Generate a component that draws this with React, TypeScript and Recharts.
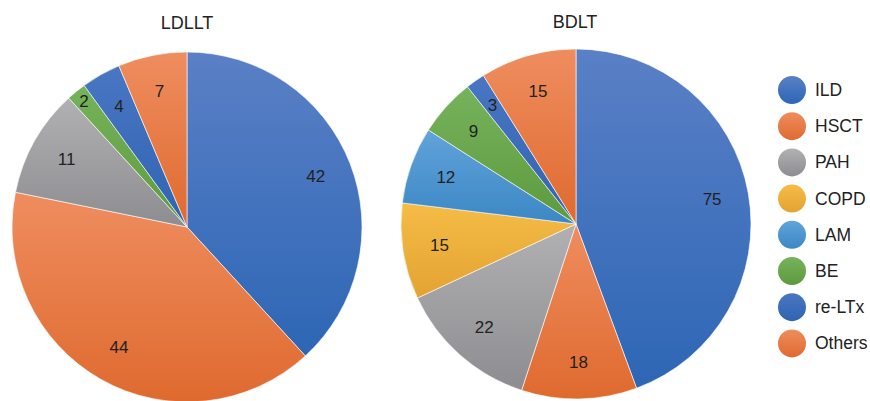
// Two pie charts (LDLLT vs BDLT indications) with a shared legend on the right.

import { PieChart, Pie, Cell } from "recharts";

const categories = ["ILD", "HSCT", "PAH", "COPD", "LAM", "BE", "re-LTx", "Others"];
const ldlltValues = [42, 44, 11, 0, 0, 2, 4, 7];
const bdltValues = [75, 18, 22, 15, 12, 9, 3, 15];

// top / bottom colours of each slice gradient
const colorTop = ["#5a80c6", "#ef8d5f", "#b1b1b3", "#f5bc46", "#62a3da", "#75b35c", "#4a76c2", "#ef8d5f"];
const colorBottom = ["#2d66b5", "#df6a2f", "#8d8d91", "#e3a332", "#3b87c5", "#5e993d", "#2f64b2", "#df6a2f"];

const FONT = "'Liberation Sans', Arial, Helvetica, sans-serif";

const toData = (values: number[]) =>
  categories
    .map((name, i) => ({ name, value: values[i], idx: i }))
    .filter((d) => d.value > 0);

const ldlltData = toData(ldlltValues);
const bdltData = toData(bdltValues);

const RAD = Math.PI / 180;

// tiny slices get their label pushed further out
const makeLabel = (smallFactor: number) => (props: any) => {
  const { cx, cy, midAngle, outerRadius, value, percent } = props;
  const r = outerRadius * (percent < 0.02 ? smallFactor : 0.79);
  const x = cx + r * Math.cos(-midAngle * RAD);
  const y = cy + r * Math.sin(-midAngle * RAD);
  return (
    <text
      x={x}
      y={y}
      fill="#222"
      fontSize={17}
      fontFamily={FONT}
      textAnchor="middle"
      dominantBaseline="central"
    >
      {value}
    </text>
  );
};

export default function App() {
  return (
    <div style={{ position: "absolute", left: 0, top: 0, width: 870, height: 401, background: "#fff" }}>
      <PieChart width={870} height={401} margin={{ top: 0, right: 0, bottom: 0, left: 0 }}>
        <defs>
          {categories.map((c, i) => (
            <linearGradient key={c} id={`grad${i}`} x1="0" y1="0" x2="0" y2="1">
              <stop offset="0%" stopColor={colorTop[i]} />
              <stop offset="100%" stopColor={colorBottom[i]} />
            </linearGradient>
          ))}
        </defs>
        <Pie
          data={ldlltData}
          dataKey="value"
          nameKey="name"
          cx={187}
          cy={227}
          outerRadius={175}
          startAngle={90}
          endAngle={-270}
          stroke="#fff"
          strokeWidth={0.6}
          label={makeLabel(0.93)}
          labelLine={false}
          isAnimationActive={false}
        >
          {ldlltData.map((d) => (
            <Cell key={d.name} fill={`url(#grad${d.idx})`} />
          ))}
        </Pie>
        <Pie
          data={bdltData}
          dataKey="value"
          nameKey="name"
          cx={576}
          cy={224}
          outerRadius={175}
          startAngle={90}
          endAngle={-270}
          stroke="#fff"
          strokeWidth={0.6}
          label={makeLabel(0.83)}
          labelLine={false}
          isAnimationActive={false}
        >
          {bdltData.map((d) => (
            <Cell key={d.name} fill={`url(#grad${d.idx})`} />
          ))}
        </Pie>
        <text x={187} y={23} textAnchor="middle" dominantBaseline="central" fontSize={18} fontFamily={FONT} fill="#222">
          LDLLT
        </text>
        <text x={575} y={22} textAnchor="middle" dominantBaseline="central" fontSize={18} fontFamily={FONT} fill="#222">
          BDLT
        </text>
        {categories.map((c, i) => (
          <g key={c}>
            <circle cx={792} cy={90 + i * 36.2} r={14} fill={`url(#grad${i})`} />
            <text x={815} y={90 + i * 36.2} dominantBaseline="central" fontSize={17.5} fontFamily={FONT} fill="#222">
              {c}
            </text>
          </g>
        ))}
      </PieChart>
    </div>
  );
}
